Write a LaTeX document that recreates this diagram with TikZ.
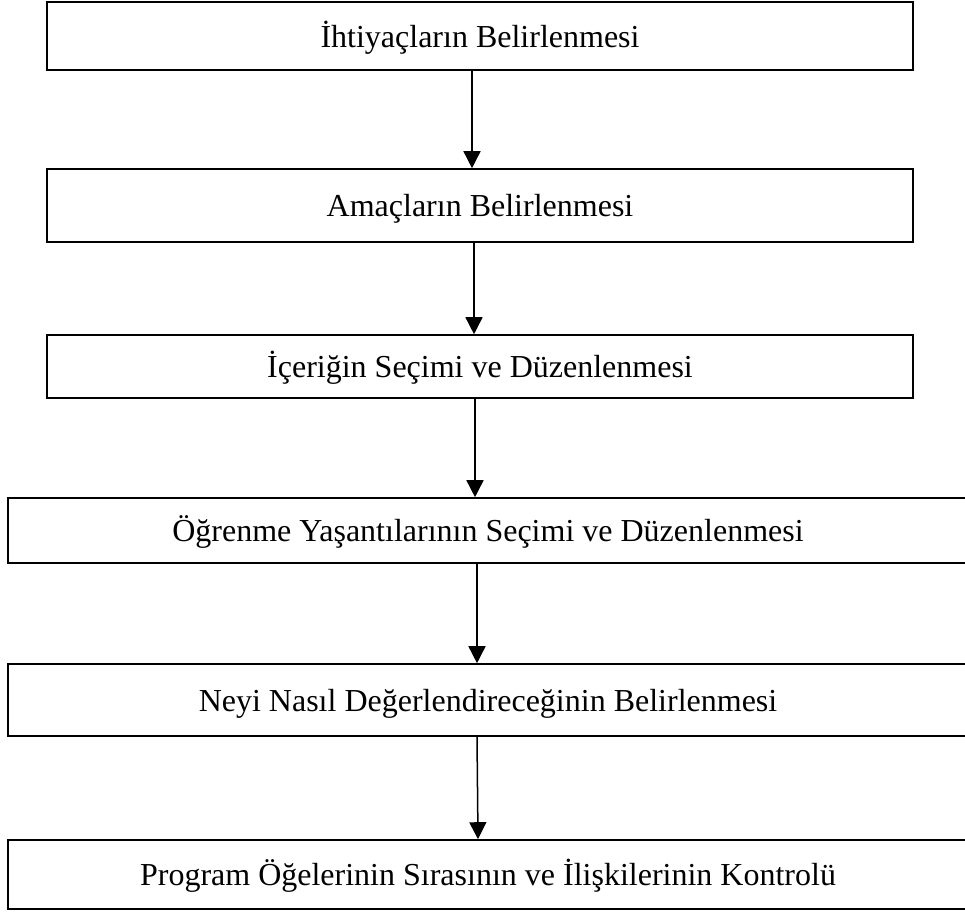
\documentclass[tikz,border=0pt]{standalone}
\usepackage{fontspec}
\setmainfont{Liberation Serif}
\usetikzlibrary{arrows.meta}
\begin{document}
\begin{tikzpicture}[x=1pt,y=-1pt,
  stepbox/.style={draw=black,line width=1.6pt,rectangle,inner sep=0pt,
    font=\fontsize{32}{38}\selectfont,text height=29pt,text depth=6.5pt,align=center},
  arr/.style={line width=1.5pt,-{Triangle[width=17pt,length=17pt]}}]
\useasboundingbox (0,0) rectangle (965,913);
\node[stepbox,minimum width=866pt,minimum height=68pt] (b1) at (480,36) {İhtiyaçların Belirlenmesi};
\node[stepbox,minimum width=866pt,minimum height=73pt] (b2) at (480,205.5) {Amaçların Belirlenmesi};
\node[stepbox,minimum width=866pt,minimum height=63pt] (b3) at (480,366.5) {İçeriğin Seçimi ve Düzenlenmesi};
\node[stepbox,minimum width=960pt,minimum height=65pt] (b4) at (488,530.5) {Öğrenme Yaşantılarının Seçimi ve Düzenlenmesi};
\node[stepbox,minimum width=960pt,minimum height=72pt] (b5) at (488,700) {Neyi Nasıl Değerlendireceğinin Belirlenmesi};
\node[stepbox,minimum width=960pt,minimum height=69pt] (b6) at (488,874.5) {Program Öğelerinin Sırasının ve İlişkilerinin Kontrolü};
\coordinate (x1) at (472,0);
\coordinate (x2) at (474,0);
\coordinate (x3) at (475,0);
\coordinate (x4) at (477,0);
\coordinate (x5a) at (477,0);
\coordinate (x5b) at (478,0);
\draw[arr] (b1.south -| x1) -- (b2.north -| x1);
\draw[arr] (b2.south -| x2) -- (b3.north -| x2);
\draw[arr] (b3.south -| x3) -- (b4.north -| x3);
\draw[arr] (b4.south -| x4) -- (b5.north -| x4);
\draw[arr] (b5.south -| x5a) -- (b6.north -| x5b);
\end{tikzpicture}
\end{document}
